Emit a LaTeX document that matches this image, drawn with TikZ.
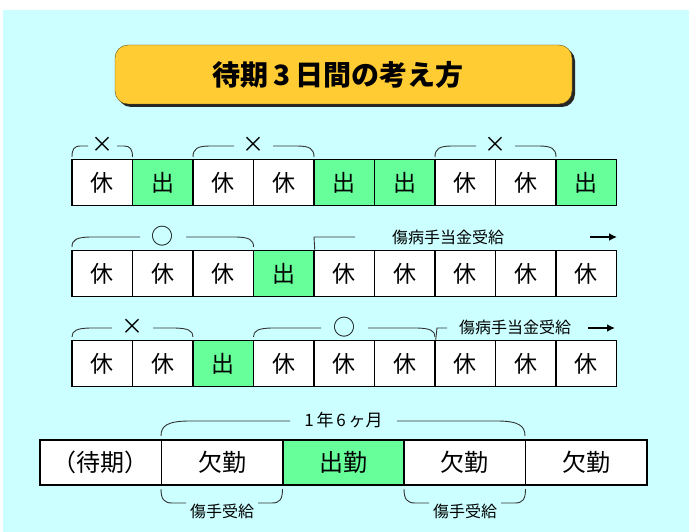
\documentclass[tikz,border=0pt]{standalone}
\usepackage{fontspec}
\setmainfont{Noto Sans CJK JP}
\newfontfamily\jp{Noto Sans CJK JP}
\usetikzlibrary{arrows.meta}
\definecolor{bgcyan}{HTML}{CCFFFF}
\definecolor{cellgreen}{HTML}{66FF99}
\definecolor{titlegold}{HTML}{FFCC33}
\tikzset{
  cell/.style={draw=black, line width=1.5pt, fill=white, minimum width=60.5pt, minimum height=46pt, inner sep=0pt, font=\jp\fontsize{23}{23}\selectfont},
  wcell/.style={cell, minimum width=121.4pt, minimum height=45pt, font=\jp\fontsize{24}{24}\selectfont},
  brc/.style={draw=black!80, line width=0.9pt},
  sym/.style={inner sep=0pt, font=\jp\fontsize{22}{22}\selectfont},
  note/.style={inner sep=0pt, font=\jp\fontsize{16}{16}\selectfont},
  arr/.style={draw=black, line width=1.6pt, -{Latex[length=8pt,width=8pt]}},
}
\begin{document}
\begin{tikzpicture}[x=1pt,y=-1pt]
\useasboundingbox (0,0) rectangle (689,532);
\fill[white] (0,0) rectangle (689,532);
\fill[bgcyan] (3,10) rectangle (689,532);
% title
\fill[black!85, rounded corners=13pt] (118,48) rectangle (575,107);
\node[draw=black!60!titlegold, fill=titlegold, rounded corners=13pt, minimum width=457pt, minimum height=59pt, inner sep=0pt] (title) at (343.5,74.5) {};
\node[font=\jp\bfseries\fontsize{28}{28}\selectfont] (ttext) at (338,75) {待期\,3\,日間の考え方};
% row 1
\foreach \t [count=\i] in {休,出,休,休,出,出,休,休,出}{
  \node[cell] (r1c\i) at ({72+60.5*(\i-0.5)},182.5) {\t};
}
\foreach \i in {2,5,6,9}{ \node[cell, fill=cellgreen] at (r1c\i) {出}; }
% row 2
\foreach \t [count=\i] in {休,休,休,出,休,休,休,休,休}{
  \node[cell] (r2c\i) at ({72+60.5*(\i-0.5)},273.5) {\t};
}
\node[cell, fill=cellgreen] at (r2c4) {出};
% row 3
\foreach \t [count=\i] in {休,休,出,休,休,休,休,休,休}{
  \node[cell] (r3c\i) at ({72+60.5*(\i-0.5)},363.5) {\t};
}
\node[cell, fill=cellgreen] at (r3c3) {出};
% row 4
\foreach \t [count=\i] in {（待期）,欠勤,出勤,欠勤,欠勤}{
  \node[wcell] (r4c\i) at ({40+121.4*(\i-0.5)},462.5) {\t};
}
\node[wcell, fill=cellgreen] at (r4c3) {出勤};

% ---- braces row 1
\node[sym] (x1) at (102.3,145) {×};
\draw[brc] (72,157) .. controls (72,149) and (74,146) .. (81,146) -- (88,146);
\draw[brc] (117,146) -- (124,146) .. controls (130,146) and (132.5,149) .. (132.5,157);
\node[sym] (x2) at (253.5,145) {×};
\draw[brc] (193,157) .. controls (193,149) and (197,146) .. (210,146) -- (234,146);
\draw[brc] (273,146) -- (297,146) .. controls (310,146) and (314,149) .. (314,157);
\node[sym] (x3) at (495.5,145) {×};
\draw[brc] (435,157) .. controls (435,149) and (439,146) .. (452,146) -- (476,146);
\draw[brc] (515,146) -- (539,146) .. controls (552,146) and (556,149) .. (556,157);

% ---- row 2
\node[sym] (o1) at (162.8,236) {○};
\draw[brc] (72,247) .. controls (72,240) and (76,237) .. (92,237) -- (140,237);
\draw[brc] (186,237) -- (234,237) .. controls (250,237) and (253.5,240) .. (253.5,247);
\draw[brc] (r2c4.north east) -- (314,237) -- (355,237);
\node[note] (n2) at (448,237) {傷病手当金受給};
\coordinate (a2s) at (590,237);
\coordinate (a2e) at (617,237);
\draw[arr] (a2s) -- (a2e);

% ---- row 3
\node[sym] (x4) at (132.5,327) {×};
\draw[brc] (72,337) .. controls (72,331) and (76,328) .. (92,328) -- (112,328);
\draw[brc] (153,328) -- (173,328) .. controls (189,328) and (193,331) .. (193,337);
\node[sym] (o2) at (344.3,327) {○};
\draw[brc] (253.5,337) .. controls (253.5,331) and (257.5,328) .. (273.5,328) -- (321,328);
\draw[brc] (368,328) -- (415,328) .. controls (431,328) and (435,331) .. (435,337);
\draw[brc] (r3c6.north east) -- (437,328) -- (447,328);
\node[note] (n3) at (515,327) {傷病手当金受給};
\coordinate (a3s) at (588,328);
\coordinate (a3e) at (615,328);
\draw[arr] (a3s) -- (a3e);

% ---- row 4
\node[note, font=\jp\fontsize{17}{17}\selectfont] (ym) at (343.5,420) {1\,年\,6\,ヶ月};
\draw[brc] (161,436) .. controls (161,426) and (167,421) .. (190,421) -- (290,421);
\draw[brc] (397,421) -- (497,421) .. controls (519,421) and (525,426) .. (525,436);
\node[note] (b1) at (222,511) {傷手受給};
\draw[brc] (161,489) .. controls (161,499) and (164,503) .. (172,503) -- (186,503);
\draw[brc] (258,503) -- (272,503) .. controls (280,503) and (282.5,499) .. (282.5,489);
\node[note] (b2) at (465,511) {傷手受給};
\draw[brc] (404,489) .. controls (404,499) and (407,503) .. (415,503) -- (429,503);
\draw[brc] (501,503) -- (515,503) .. controls (523,503) and (525.5,499) .. (525.5,489);
\end{tikzpicture}
\end{document}
